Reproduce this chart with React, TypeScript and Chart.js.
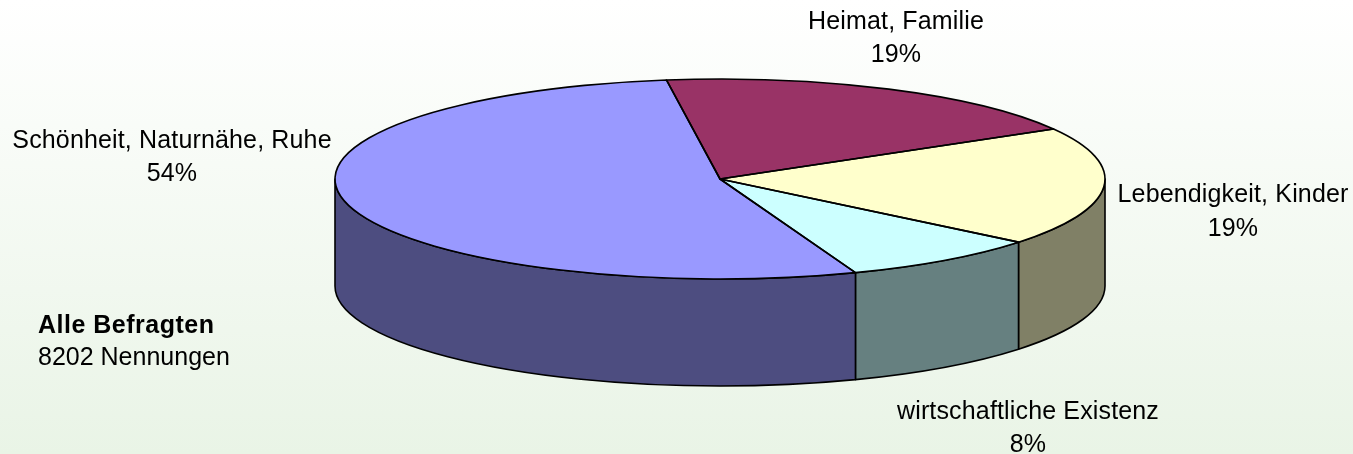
import React, { useEffect, useRef } from "react";
import { Chart, registerables } from "chart.js";

Chart.register(...registerables);

const categories = ["Heimat, Familie", "Lebendigkeit, Kinder", "wirtschaftliche Existenz", "Schönheit, Naturnähe, Ruhe"];
const shareValues = [18.9, 19.2, 8.4, 53.5];
const percentLabels = ["19%", "19%", "8%", "54%"];
const topColors = ["#993366", "#FFFFCC", "#CCFFFF", "#9999FF"];
const sideColors = ["#4D1A33", "#808066", "#668080", "#4D4D80"];
const noteTitle = "Alle Befragten";
const noteText = "8202 Nennungen";

const W = 1353;
const H = 454;
const CX = 720;
const CY = 179;
const RX = 385;
const RY = 100;
const DEPTH = 107;
const FONT = '25px "Liberation Sans", Arial, sans-serif';
const BOLD = 'bold 25px "Liberation Sans", Arial, sans-serif';
const labelAnchors = [
  { x: 896, y1: 29, y2: 62 },
  { x: 1233, y1: 202, y2: 236 },
  { x: 1028, y1: 419, y2: 452 },
  { x: 172, y1: 148, y2: 181 },
];

const pie3d = {
  id: "pie3d",
  beforeDatasetsDraw(chart: any) {
    const ctx = chart.ctx;
    const arcs = chart.getDatasetMeta(0).data;
    const TAU = Math.PI * 2;
    // side walls: the part of each slice lying on the front half of the ellipse
    ctx.save();
    ctx.lineWidth = 1.6;
    ctx.strokeStyle = "#000";
    ctx.lineJoin = "round";
    arcs.forEach((a: any, i: number) => {
      for (const shift of [0, TAU, -TAU]) {
        const s = Math.max(a.startAngle + shift, 0);
        const e = Math.min(a.endAngle + shift, Math.PI);
        if (e <= s) continue;
        ctx.beginPath();
        ctx.ellipse(CX, CY, RX, RY, 0, s, e);
        ctx.ellipse(CX, CY + DEPTH, RX, RY, 0, e, s, true);
        ctx.closePath();
        ctx.fillStyle = sideColors[i];
        ctx.fill();
        ctx.stroke();
      }
    });
    ctx.restore();
    // top face: library arcs, squashed into the ellipse
    const a0 = arcs[0];
    ctx.save();
    ctx.translate(CX, CY);
    ctx.scale(RX / a0.outerRadius, RY / a0.outerRadius);
    ctx.translate(-a0.x, -a0.y);
  },
  afterDatasetsDraw(chart: any) {
    const ctx = chart.ctx;
    ctx.restore();
    const arcs = chart.getDatasetMeta(0).data;
    ctx.save();
    ctx.lineWidth = 1.6;
    ctx.strokeStyle = "#000";
    ctx.lineJoin = "round";
    arcs.forEach((a: any) => {
      ctx.beginPath();
      ctx.moveTo(CX, CY);
      ctx.ellipse(CX, CY, RX, RY, 0, a.startAngle, a.endAngle);
      ctx.closePath();
      ctx.stroke();
    });
    // labels
    ctx.fillStyle = "#000";
    ctx.textBaseline = "alphabetic";
    ctx.font = FONT;
    ctx.letterSpacing = "0.15px";
    ctx.textAlign = "center";
    categories.forEach((c, i) => {
      const p = labelAnchors[i];
      ctx.fillText(c, p.x, p.y1);
      ctx.fillText(percentLabels[i], p.x, p.y2);
    });
    ctx.textAlign = "left";
    ctx.font = BOLD;
    ctx.letterSpacing = "0.5px";
    ctx.fillText(noteTitle, 38, 333);
    ctx.font = FONT;
    ctx.letterSpacing = "0px";
    ctx.fillText(noteText, 38, 365);
    ctx.restore();
  },
};

export default function App() {
  const ref = useRef<HTMLCanvasElement>(null);
  useEffect(() => {
    const chart = new Chart(ref.current as HTMLCanvasElement, {
      type: "pie",
      data: {
        labels: categories,
        datasets: [{ data: shareValues, backgroundColor: topColors, borderWidth: 0 }],
      },
      options: {
        responsive: false,
        animation: false,
        rotation: -8,
        plugins: { legend: { display: false }, tooltip: { enabled: false } },
      },
      plugins: [pie3d],
    } as any);
    return () => chart.destroy();
  }, []);
  return (
    <div
      style={{
        position: "fixed",
        left: 0,
        top: 0,
        width: W,
        height: H,
        background: "linear-gradient(to bottom, #FFFFFF 0%, #E9F4E6 100%)",
      }}
    >
      <canvas ref={ref} width={W} height={H} style={{ display: "block" }} />
    </div>
  );
}
